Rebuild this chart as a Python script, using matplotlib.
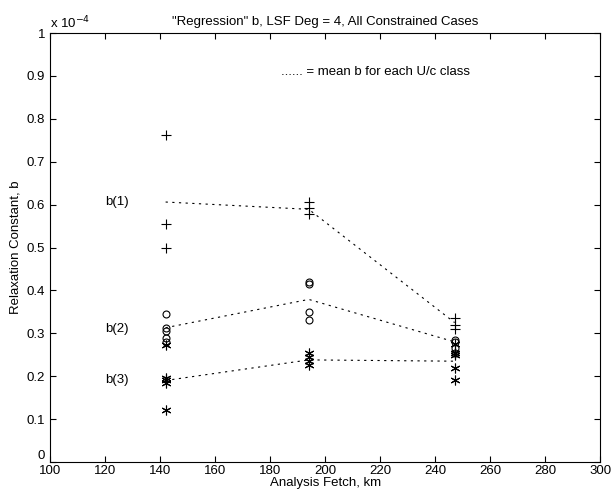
import matplotlib
matplotlib.use("Agg")
import matplotlib.pyplot as plt

plt.rcParams['font.family'] = ['Liberation Sans', 'DejaVu Sans']

# fetch classes (km) and b values (units of 1e-4)
fetch = [142, 194, 247]

b1_pts = [[0.763, 0.555, 0.50],
          [0.605, 0.592, 0.578],
          [0.335, 0.320, 0.310]]
b2_pts = [[0.345, 0.312, 0.305, 0.290, 0.280],
          [0.420, 0.415, 0.350, 0.330],
          [0.285, 0.280, 0.265, 0.255]]
b3_pts = [[0.272, 0.195, 0.190, 0.185, 0.122],
          [0.255, 0.245, 0.235, 0.226],
          [0.275, 0.255, 0.250, 0.220, 0.190]]

b1_mean = [0.606, 0.589, 0.325]
b2_mean = [0.313, 0.379, 0.280]
b3_mean = [0.190, 0.238, 0.235]

fig = plt.figure(figsize=(6.13, 5.0), dpi=100)
ax = fig.add_axes([0.0816, 0.076, 0.898, 0.858])

star = (6, 2, 0)
for x, ys in zip(fetch, b1_pts):
    ax.plot([x] * len(ys), ys, linestyle='none', marker='+', color='k', ms=7, mew=0.8)
for x, ys in zip(fetch, b2_pts):
    ax.plot([x] * len(ys), ys, linestyle='none', marker='o', mfc='none', mec='k', ms=5, mew=0.8)
for x, ys in zip(fetch, b3_pts):
    ax.plot([x] * len(ys), ys, linestyle='none', marker=star, color='k', ms=7, mew=0.8)

for m in [b1_mean, b2_mean, b3_mean]:
    ax.plot(fetch, m, color='k', linestyle=(0, (2, 4)), linewidth=0.8)

ax.text(120, 0.606, 'b(1)', fontsize=9.5, va='center')
ax.text(120, 0.31, 'b(2)', fontsize=9.5, va='center')
ax.text(120, 0.19, 'b(3)', fontsize=9.5, va='center')
ax.text(184, 0.91, '...... = mean b for each U/c class', fontsize=9.5, va='center')

ax.set_xlim(100, 300)
ax.set_ylim(0, 1)
ax.set_xticks(range(100, 301, 20))
ax.set_yticks([i / 10 for i in range(11)])
ax.set_yticklabels(['0', '0.1', '0.2', '0.3', '0.4', '0.5', '0.6', '0.7', '0.8', '0.9', '1'])
ax.tick_params(direction='in', top=True, right=True, labelsize=9.5, length=4, width=0.8)
ax.tick_params(axis='x', pad=2)
for s in ax.spines.values():
    s.set_linewidth(0.8)
ax.get_yticklabels()[0].set_va('bottom')

ax.set_xlabel('Analysis Fetch, km', fontsize=9.5, labelpad=0)
ax.set_ylabel('Relaxation Constant, b', fontsize=9.5)
ax.set_title('"Regression" b, LSF Deg = 4, All Constrained Cases', fontsize=9.5, pad=6)
ax.text(0.0, 1.005, 'x 10$^{-4}$', transform=ax.transAxes, fontsize=9.5, va='bottom')

fig.savefig('out.png', dpi=100)
